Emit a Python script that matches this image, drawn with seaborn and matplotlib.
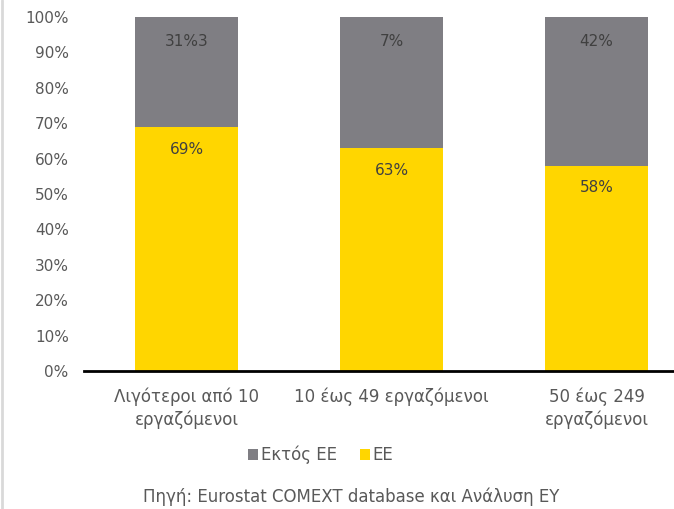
import matplotlib
matplotlib.use("Agg")
import matplotlib.pyplot as plt
from matplotlib.lines import Line2D
from matplotlib.patches import Patch
import pandas as pd
import seaborn as sns

# Company size categories
categories = ["Λιγότεροι από 10\nεργαζόμενοι", "10 έως 49 εργαζόμενοι", "50 έως 249\nεργαζόμενοι"]
# Export share by destination (%)
eu_share = [69, 63, 58]
non_eu_share = [31, 37, 42]
# Label texts shown on the segments
eu_labels = ["69%", "63%", "58%"]
non_eu_labels = ["31%3", "7%", "42%"]
y_ticks = [0, 10, 20, 30, 40, 50, 60, 70, 80, 90, 100]

YELLOW = "#FFD600"
GRAY = "#7F7E83"
TEXT = "#595959"
LABEL = "#404040"

sns.set_theme(style="white")
plt.rcParams["font.family"] = ["DejaVu Sans"]

df = pd.DataFrame({
    "category": categories,
    "eu": eu_share,
    "total": [a + b for a, b in zip(eu_share, non_eu_share)],
})

W, H = 674, 509
fig = plt.figure(figsize=(W / 100, H / 100), dpi=100)
ax = fig.add_axes([84 / W, (H - 371) / H, 615 / W, 354 / H])

sns.barplot(data=df, x="category", y="total", color=GRAY, width=0.5,
            saturation=1, ax=ax, linewidth=0)
sns.barplot(data=df, x="category", y="eu", color=YELLOW, width=0.5,
            saturation=1, ax=ax, linewidth=0)

# segment labels
for i, (eu, ne) in enumerate(zip(eu_share, non_eu_share)):
    ax.text(i, eu - 6.3, eu_labels[i], ha="center", va="center",
            fontsize=11, color=LABEL)
    ax.text(i, eu + ne - 6.8, non_eu_labels[i], ha="center", va="center",
            fontsize=11, color=LABEL)

ax.set_xlim(-0.5, 2.5)
ax.set_ylim(0, 100)
ax.set_yticks(y_ticks)
ax.set_yticklabels([f"{t}%" for t in y_ticks])
ax.set_xlabel("")
ax.set_ylabel("")
ax.tick_params(axis="y", length=0, pad=11, labelsize=11, labelcolor=TEXT)
ax.tick_params(axis="x", length=0, pad=12, labelsize=12, labelcolor=TEXT)
for lbl in ax.get_xticklabels():
    lbl.set_linespacing(1.27)

for side in ["top", "right", "left"]:
    ax.spines[side].set_visible(False)
ax.spines["bottom"].set_color("black")
ax.spines["bottom"].set_linewidth(2)

handles = [Patch(facecolor=GRAY, edgecolor="none", label="Εκτός ΕΕ"),
           Patch(facecolor=YELLOW, edgecolor="none", label="ΕΕ")]
fig.legend(handles=handles, loc="center", bbox_to_anchor=(321 / W, 1 - 455 / H),
           ncol=2, frameon=False, fontsize=12, handlelength=0.6,
           handleheight=0.6, handletextpad=0.15, columnspacing=1.4,
           labelcolor=TEXT)

fig.text(351 / W, 1 - 497 / H, "Πηγή: Eurostat COMEXT database και Ανάλυση ΕΥ",
         ha="center", va="center", fontsize=12, color=TEXT)

# frame edge on the left
fig.add_artist(Line2D([2 / W, 2 / W], [0, 1], transform=fig.transFigure,
                      color="#D9D9D9", linewidth=2))

fig.savefig("out.png", dpi=100)
